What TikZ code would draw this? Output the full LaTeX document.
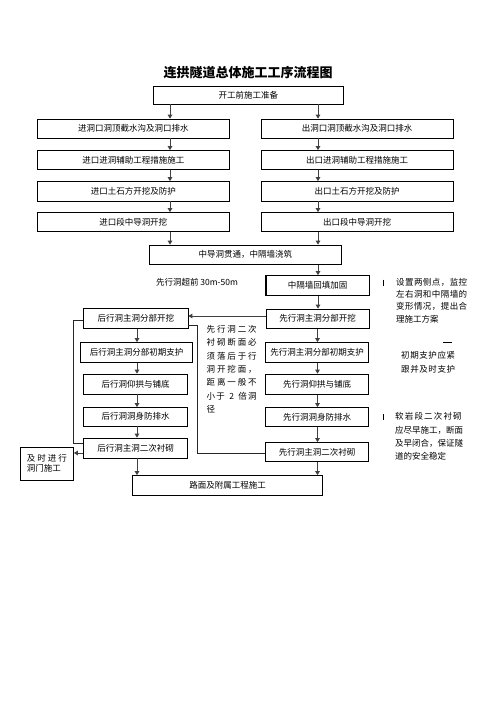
\documentclass[tikz,border=0pt]{standalone}
\usepackage{fontspec}
\setmainfont{Noto Sans CJK SC}
\usetikzlibrary{arrows.meta}
\newcommand\spreadline[2]{\makebox[#1][s]{\spreadaux#2\relax}}
\def\spreadaux#1#2{#1\ifx\relax#2\else\hfil\expandafter\spreadaux\expandafter#2\fi}
\begin{document}
\begin{tikzpicture}[x=1pt,y=-1pt,
  box/.style={draw, line width=0.7pt, inner sep=0pt, font=\fontsize{8.5}{10}\selectfont, align=center},
  arr/.style={line width=1pt, draw=black!75, -{Triangle[length=4pt,width=4.5pt]}},
  ln/.style={line width=0.8pt, draw=black!85},
  note/.style={font=\fontsize{8.5}{10}\selectfont, anchor=west, inner sep=0pt}]
\useasboundingbox (0,0) rectangle (496,702);
\fill[white] (0,0) rectangle (496,702);

\node[font=\fontsize{13}{15}\bfseries\selectfont] (title) at (248,73) {连拱隧道总体施工工序流程图};

\node[box, minimum width=190.5pt, minimum height=18pt] (prep) at (248.25,95) {开工前施工准备};

\node[box, minimum width=191.5pt, minimum height=19pt] (L1) at (133.25,128.5) {进洞口洞顶截水沟及洞口排水};
\node[box, minimum width=192pt, minimum height=19pt] (R1) at (357,128.5) {出洞口洞顶截水沟及洞口排水};
\node[box, minimum width=191.5pt, minimum height=19pt] (L2) at (133.25,160) {进口进洞辅助工程措施施工};
\node[box, minimum width=192pt, minimum height=19pt] (R2) at (357,160) {出口进洞辅助工程措施施工};
\node[box, minimum width=191.5pt, minimum height=19.5pt] (L3) at (133.25,191.25) {进口土石方开挖及防护};
\node[box, minimum width=192pt, minimum height=19.5pt] (R3) at (357,191.25) {出口土石方开挖及防护};
\node[box, minimum width=191.5pt, minimum height=19pt] (L4) at (133.25,222) {进口段中导洞开挖};
\node[box, minimum width=192pt, minimum height=19pt] (R4) at (357,222) {出口段中导洞开挖};

\node[box, minimum width=191.5pt, minimum height=19.5pt] (mid) at (245.25,254.75) {中导洞贯通，中隔墙浇筑};
\node[box, minimum width=103pt, minimum height=20pt] (gq) at (317.5,285.5) {中隔墙回填加固};
\draw[line width=1.3pt] (gq.north west) -- (gq.south west);

\node[box, minimum width=103pt, minimum height=19.5pt] (XK) at (317.5,318.75) {先行洞主洞分部开挖};
\node[box, minimum width=104.5pt, minimum height=20pt] (HK) at (135.75,318.5) {后行洞主洞分部开挖};
\node[box, minimum width=112pt, minimum height=20pt] (HZ) at (136.5,352.5) {后行洞主洞分部初期支护};
\node[box, minimum width=103pt, minimum height=20pt] (XZ) at (317,352.5) {先行洞主洞分部初期支护};
\node[box, minimum width=104pt, minimum height=20pt] (HY) at (135.5,384) {后行洞仰拱与铺底};
\node[box, minimum width=103pt, minimum height=20.5pt] (XY) at (317,384.25) {先行洞仰拱与铺底};
\node[box, minimum width=104pt, minimum height=18.5pt] (HF) at (135.5,416.75) {后行洞洞身防排水};
\node[box, minimum width=103pt, minimum height=19pt] (XF) at (317,417) {先行洞洞身防排水};
\node[box, minimum width=104pt, minimum height=20pt] (HC) at (135.5,448) {后行洞主洞二次衬砌};
\node[box, minimum width=103pt, minimum height=19pt] (XC) at (317,452) {先行洞主洞二次衬砌};
\node[box, minimum width=53pt, minimum height=32.5pt, align=left] (DM) at (47,463.75) {\spreadline{40pt}{及时进行}\\洞门施工};
\node[box, minimum width=190pt, minimum height=20pt] (LM) at (227.5,485.5) {路面及附属工程施工};

% arrows top section
\draw[arr] (prep.south -| 170,0) -- (L1.north -| 170,0);
\draw[arr] (prep.south -| 318,0) -- (R1.north -| 318,0);
\draw[arr] (L1.south -| 170,0) -- (L2.north -| 170,0);
\draw[arr] (R1.south -| 318,0) -- (R2.north -| 318,0);
\draw[arr] (L2.south -| 170,0) -- (L3.north -| 170,0);
\draw[arr] (R2.south -| 318,0) -- (R3.north -| 318,0);
\draw[arr] (L3.south -| 170,0) -- (L4.north -| 170,0);
\draw[arr] (R3.south -| 318,0) -- (R4.north -| 318,0);
\draw[arr] (L4.south -| 170,0) -- (mid.north -| 170,0);
\draw[arr] (R4.south -| 318,0) -- (mid.north -| 318,0);
\draw[arr] (mid.south -| 318,0) -- (gq.north -| 318,0);
\draw[arr] (gq.south -| 318,0) -- (XK.north -| 318,0);
\draw[arr] (XK.west |- 0,316) -- (HK.east |- 0,316);

% lower columns
\draw[arr] (HK.south -| 137,0) -- (HZ.north -| 137,0);
\draw[arr] (HZ.south -| 137,0) -- (HY.north -| 137,0);
\draw[arr] (HY.south -| 137,0) -- (HF.north -| 137,0);
\draw[arr] (HF.south -| 137,0) -- (HC.north -| 137,0);
\draw[arr] (HC.south -| 137,0) -- (LM.north -| 137,0);
\draw[arr] (XK.south -| 317.5,0) -- (XZ.north -| 317.5,0);
\draw[arr] (XZ.south -| 317.5,0) -- (XY.north -| 317.5,0);
\draw[arr] (XY.south -| 317.5,0) -- (XF.north -| 317.5,0);
\draw[arr] (XF.south -| 317.5,0) -- (XC.north -| 317.5,0);
\draw[arr] (XC.south -| 317.5,0) -- (LM.north -| 317.5,0);
\draw[arr] (HC.west |- 0,453) -- (DM.east |- 0,453);

% loops
\draw[ln] (HK.west |- 0,320) -- (73,320) -- (73,443) -- (HC.west |- 0,443);
\draw[ln] (HK.east |- 0,325) -- (197,325) -- (197,453) -- (XC.west |- 0,453);

% texts
\node[font=\fontsize{8.5}{10}\selectfont] (adv) at (197,282.7) {先行洞超前 30m-50m};

\node[note] (m1) at (206.5,329.5) {\spreadline{50pt}{先行洞二次}};
\node[note] (m2) at (206.5,342.7) {\spreadline{50pt}{衬砌断面必}};
\node[note] (m3) at (206.5,356) {\spreadline{50pt}{须落后于行}};
\node[note] (m4) at (206.5,369.3) {\spreadline{50pt}{洞开挖面，}};
\node[note] (m5) at (206.5,382.7) {\spreadline{50pt}{距离一般不}};
\node[note] (m6) at (206.5,396) {\spreadline{50pt}{小于\ 2\ 倍洞}};
\node[note] (m7) at (206.5,409.3) {径};

\draw[line width=0.7pt] (383,279.5) -- (383,285.5);
\node[note] (n1) at (396,282.5) {\spreadline{71pt}{设置两侧点，监控}};
\node[note] (n2) at (396,294.5) {\spreadline{71pt}{左右洞和中隔墙的}};
\node[note] (n3) at (396,306.7) {\spreadline{71pt}{变形情况，提出合}};
\node[note] (n4) at (396,319) {理施工方案};

\draw[line width=0.7pt] (443,342.7) -- (452,342.7);
\node[note] (p1) at (401,355.7) {\spreadline{54pt}{初期支护应紧}};
\node[note] (p2) at (401,369) {\spreadline{54pt}{跟并及时支护}};

\draw[line width=0.7pt] (383,414) -- (383,420);
\node[note] (s1) at (395,416) {\spreadline{66.5pt}{软岩段二次衬砌}};
\node[note] (s2) at (395,430) {\spreadline{66.5pt}{应尽早施工，断面}};
\node[note] (s3) at (395,443.7) {\spreadline{66.5pt}{及早闭合，保证隧}};
\node[note] (s4) at (395,456.5) {道的安全稳定};
\end{tikzpicture}
\end{document}
